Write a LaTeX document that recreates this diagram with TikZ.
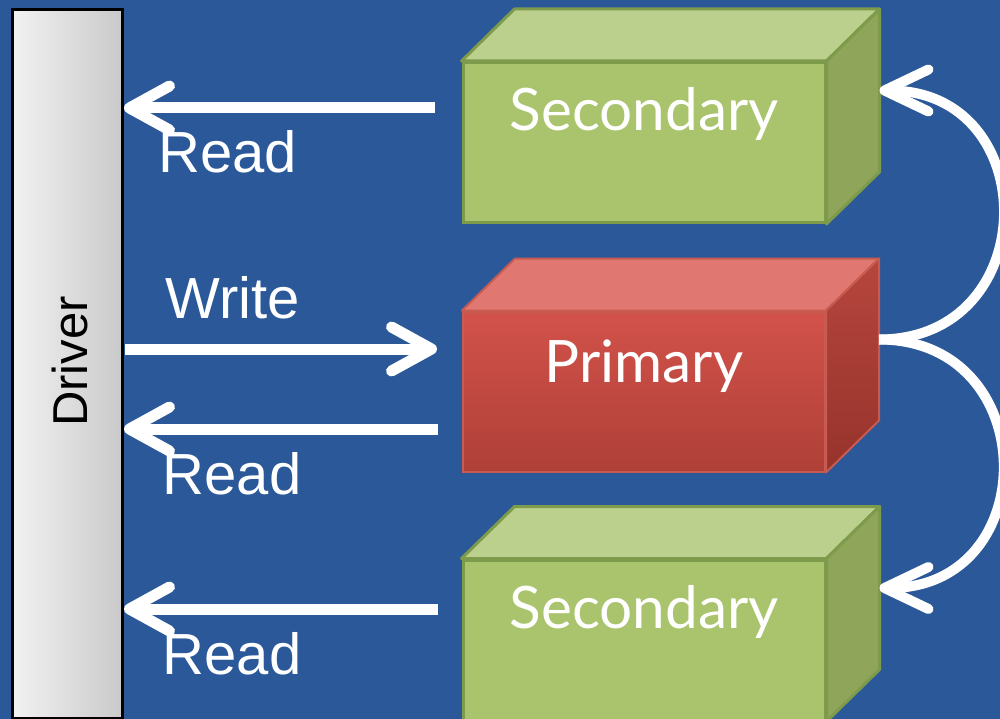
\documentclass[tikz,border=0pt]{standalone}
\usepackage{fontspec}
\setmainfont{Liberation Sans}
\newfontfamily\boxfont{Lato}
\usetikzlibrary{arrows.meta,calc}

\definecolor{bg}{HTML}{2A5899}
\definecolor{drvL}{HTML}{F2F2F2}
\definecolor{drvR}{HTML}{C9C9C9}
\definecolor{grFront}{HTML}{A9C46C}
\definecolor{grTop}{HTML}{BCD08E}
\definecolor{grSide}{HTML}{8EA55A}
\definecolor{grEdge}{HTML}{7E9A4B}
\definecolor{rdFrontT}{HTML}{D2524A}
\definecolor{rdFrontB}{HTML}{AF4038}
\definecolor{rdTop}{HTML}{E07770}
\definecolor{rdSideT}{HTML}{B6463E}
\definecolor{rdSideB}{HTML}{96332B}
\definecolor{rdEdge}{HTML}{C85B51}

\tikzset{
  driverbar/.style={draw=black, line width=3pt, left color=drvL, right color=drvR,
    minimum width=110pt, minimum height=708pt, inner sep=0pt},
  drivertext/.style={rotate=90, anchor=base, inner sep=0pt, text=black,
    font=\fontsize{49}{49}\selectfont},
  flowarrow/.style={draw=white, line width=11pt,
    -{Straight Barb[length=40pt,width=44pt,round]}},
  replarrow/.style={draw=white, line width=10pt,
    -{Straight Barb[length=44pt,width=42pt,round]}},
  flowlabel/.style={text=white, anchor=base west, inner sep=0pt,
    font=\fontsize{58}{58}\selectfont},
  boxlabel/.style={text=white, anchor=base, inner sep=0pt,
    font=\boxfont\fontsize{58.5}{58.5}\selectfont},
  frontface/.style={minimum width=362pt, minimum height=160pt, inner sep=0pt},
  greenfront/.style={frontface, draw=grEdge, line width=3pt, fill=grFront},
  greentop/.style={draw=grEdge, line width=3pt, fill=grTop, line join=round},
  greenside/.style={draw=grEdge, line width=3pt, fill=grSide, line join=round},
  redfront/.style={frontface, draw=rdEdge, line width=2pt, top color=rdFrontT, bottom color=rdFrontB},
  redtop/.style={draw=rdEdge, line width=2pt, fill=rdTop, line join=round},
  redside/.style={draw=rdEdge, line width=2pt, top color=rdSideT, bottom color=rdSideB, line join=round},
}

% depth of the boxes: 53 right, 53 up
\newcommand{\boxfaces}[3]{%
  \path[#2] (#1.north west) -- ++(53,-52) -- ($(#1.north east)+(53,-52)$) -- (#1.north east) -- cycle;
  \path[#3] (#1.north east) -- ++(53,-52) -- ($(#1.south east)+(53,-52)$) -- (#1.south east) -- cycle;
}

\begin{document}
\begin{tikzpicture}[x=1pt,y=-1pt]
\useasboundingbox (0,0) rectangle (1000,719);
\fill[bg] (0,0) rectangle (1000,719);

% driver bar
\node[driverbar] (drv) at (67.5,364) {};
\node[drivertext] (drvlabel) at (87,361.5) {Driver};

% the three boxes
\node[greenfront] (s1) at (644,142.5) {};
\boxfaces{s1}{greentop}{greenside}
\node[boxlabel] at ($(s1.north)+(0,70)$) {Secondary};

\node[redfront] (p) at (644,391.5) {};
\boxfaces{p}{redtop}{redside}
\node[boxlabel] at ($(p.north)+(0,71.5)$) {Primary};

\node[greenfront] (s2) at (644,640) {};
\boxfaces{s2}{greentop}{greenside}
\node[boxlabel] at ($(s2.north)+(0,70)$) {Secondary};

% back edges of the boxes, where replication arrows meet
\coordinate (pb) at ($(p.east)+(53,-52)$);
\coordinate (s1b) at ($(s1.east)+(53,-52)$);
\coordinate (s2b) at ($(s2.east)+(53,-52)$);

% read / write arrows
\coordinate (r1) at (435,108);
\coordinate (w) at (125,349);
\coordinate (r2) at (438,429);
\coordinate (r3) at (438,609);
\draw[flowarrow] (r1) -- (r1 -| drv.east);
\draw[flowarrow] (w) -- ($(w -| p.west)+(-25,0)$);
\draw[flowarrow] (r2) -- (r2 -| drv.east);
\draw[flowarrow] (r3) -- (r3 -| drv.east);

\node[flowlabel] at (158,173) {Read};
\node[flowlabel] at (165.5,318) {Write};
\node[flowlabel] at (162.5,494) {Read};
\node[flowlabel] at (162.5,674) {Read};

% replication arrows
\draw[replarrow] (pb) to[out=0,in=0,looseness=1.69] (s1b);
\draw[replarrow] (pb) to[out=0,in=0,looseness=1.69] (s2b);
\end{tikzpicture}
\end{document}
